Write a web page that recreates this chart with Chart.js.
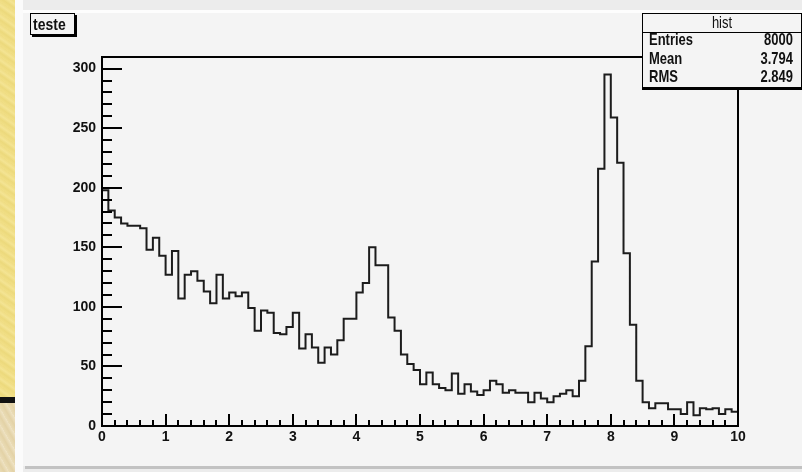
<!DOCTYPE html>
<html>
<head>
<meta charset="utf-8">
<script src="https://cdn.jsdelivr.net/npm/chart.js@4/dist/chart.umd.min.js"></script>
<style>
  html, body { margin: 0; padding: 0; }
  body { width: 802px; height: 472px; position: relative; overflow: hidden; background: #ececec;
         font-family: "Liberation Sans", Arial, sans-serif; }
  .abs { position: absolute; }
  #edgeYellow { left: 0; top: 0; width: 15px; height: 397px;
    background: repeating-linear-gradient(35deg, #f1df86 0px, #ecd97c 3px, #f4e493 6px, #efdc82 9px); }
  #edgeBar { left: 0; top: 397px; width: 15px; height: 6px; background: #111; }
  #edgeBeige { left: 0; top: 403px; width: 15px; height: 69px;
    background: repeating-linear-gradient(60deg, #eadcb6 0px, #e3d2a6 4px, #efe3c4 8px); }
  #edgeWhite { left: 15px; top: 0; width: 8px; height: 472px; background: #fbfbfb; }
  #topWhite { left: 23px; top: 10px; width: 779px; height: 3px; background: #fdfdfd; }
  #pad { left: 23px; top: 13px; width: 779px; height: 453px; background: #f4f4f4; }
  #padShadow { left: 25px; top: 466px; width: 777px; height: 3px; background: #c2c2c2; }
  canvas { position: absolute; left: 0; top: 0; }
  .tall { display: inline-block; transform: scaleY(1.22); transform-origin: 50% 55%; }
  #titleBox { left: 30px; top: 13px; width: 43px; height: 20px; border: 1px solid #000;
    box-shadow: 2px 2px 0 #000; background: #f4f4f4; font-weight: bold; font-size: 14px; color: #111; }
  #titleBox span.t { position: absolute; left: 2px; top: 1px; line-height: 18px; }
  #stats { left: 642px; top: 13px; width: 158px; height: 73px; border: 1px solid #000;
    box-shadow: 0 2px 0 #000; background: #f4f4f4; font-weight: bold; font-size: 13px; color: #111; }
  #stats .hdr { position: absolute; left: 0; top: 0; width: 158px; height: 18px; border-bottom: 1px solid #000;
    text-align: center; line-height: 18px; font-weight: normal; font-size: 13px; }
  #stats .lab { position: absolute; left: 6px; line-height: 16px; }
  #stats .val { position: absolute; right: 8px; line-height: 16px; }
</style>
</head>
<body>
<div id="edgeYellow" class="abs"></div>
<div id="edgeBar" class="abs"></div>
<div id="edgeBeige" class="abs"></div>
<div id="edgeWhite" class="abs"></div>
<div id="topWhite" class="abs"></div>
<div id="pad" class="abs"></div>
<div id="padShadow" class="abs"></div>
<canvas id="c" width="802" height="472"></canvas>
<div id="titleBox" class="abs"><span class="t"><span class="tall" id="titleText"></span></span></div>
<div id="stats" class="abs"></div>
<script>
// Histogram "hist": 100 bins of width 0.1 on [0, 10]
const histTitle = "teste";
const histName = "hist";
const xMin = 0;
const xMax = 10;
const binCounts = [
  198, 181, 175, 170, 168, 168, 166, 148, 158, 143,
  127, 147, 107, 127, 130, 122, 113, 103, 127, 107,
  112, 109, 112,  99,  80,  97,  95,  78,  77,  83,
   95,  65,  77,  66,  53,  66,  60,  72,  90,  90,
  112, 120, 150, 135, 135,  91,  80,  60,  52,  47,
   35,  45,  35,  32,  30,  44,  27,  35,  29,  26,
   30,  38,  35,  28,  30,  28,  28,  20,  28,  23,
   20,  25,  27,  30,  25,  38,  67, 138, 216, 295,
  259, 221, 145,  85,  38,  20,  15,  19,  19,  14,
   14,  10,  20,   9,  15,  14,  15,  10,  14,  12
];
const statLabels = ["Entries", "Mean", "RMS"];
const statValues = ["8000", "3.794", "2.849"];
const xTickLabels = ["0", "1", "2", "3", "4", "5", "6", "7", "8", "9", "10"];
const yTickLabels = ["0", "50", "100", "150", "200", "250", "300"];

// Title and statistics boxes
document.getElementById("titleText").textContent = histTitle;
const stats = document.getElementById("stats");
const hdr = document.createElement("div");
hdr.className = "hdr";
hdr.innerHTML = '<span class="tall"></span>';
hdr.firstChild.textContent = histName;
stats.appendChild(hdr);
const rowTops = [18, 37, 55];
statLabels.forEach((lab, i) => {
  const l = document.createElement("div");
  l.className = "lab"; l.style.top = rowTops[i] + "px";
  l.innerHTML = '<span class="tall"></span>'; l.firstChild.textContent = lab;
  const v = document.createElement("div");
  v.className = "val"; v.style.top = rowTops[i] + "px";
  v.innerHTML = '<span class="tall"></span>'; v.firstChild.textContent = statValues[i];
  stats.appendChild(l); stats.appendChild(v);
});

// Outline points: rise from zero at the low edge, one step per bin, drop at the high edge
const nBins = binCounts.length;
const binW = (xMax - xMin) / nBins;
const outline = [{ x: xMin, y: 0 }];
binCounts.forEach((c, i) => outline.push({ x: xMin + i * binW, y: c }));
outline.push({ x: xMax, y: binCounts[nBins - 1] });
outline.push({ x: xMax, y: 0 });

const yMax = 1.05 * Math.max(...binCounts);
const labelFont = { family: '"Liberation Sans", Arial, sans-serif', size: 14, weight: 'bold' };

// Frame plus inward ROOT-style tick marks
const frameTicks = {
  id: 'frameTicks',
  afterDatasetsDraw(chart) {
    const { ctx, chartArea: a, scales: { x, y } } = chart;
    ctx.save();
    ctx.strokeStyle = '#000';
    ctx.lineWidth = 2;
    ctx.strokeRect(a.left, a.top, a.right - a.left, a.bottom - a.top);
    ctx.beginPath();
    for (let v = 0; v <= y.max + 1e-6; v += 10) {
      const py = Math.round(y.getPixelForValue(v));
      const len = (v % 50 === 0) ? 20 : 10;
      ctx.moveTo(a.left, py); ctx.lineTo(a.left + len, py);
    }
    for (let k = 0; k <= 50; k++) {
      const px = Math.round(x.getPixelForValue(k * 0.2));
      const len = (k % 5 === 0) ? 12 : 6;
      ctx.moveTo(px, a.bottom); ctx.lineTo(px, a.bottom - len);
    }
    ctx.stroke();
    ctx.restore();
  }
};

new Chart(document.getElementById('c'), {
  type: 'line',
  data: {
    datasets: [{
      label: histName,
      data: outline,
      stepped: 'before',
      borderColor: '#1c1c1c',
      borderWidth: 2,
      pointRadius: 0,
      fill: false,
      clip: false
    }]
  },
  options: {
    responsive: false,
    animation: false,
    devicePixelRatio: 1,
    layout: { padding: { top: 57, right: 64, left: 0, bottom: 0 } },
    plugins: { legend: { display: false }, tooltip: { enabled: false } },
    scales: {
      x: {
        type: 'linear', min: xMin, max: xMax,
        grid: { display: false, drawTicks: false },
        border: { display: false },
        ticks: {
          stepSize: 1, padding: 3, color: '#111', font: labelFont, maxRotation: 0,
          callback: (v) => xTickLabels[Math.round(v)]
        },
        afterFit: (s) => { s.height = 46; s.paddingLeft = 0; s.paddingRight = 0; }
      },
      y: {
        type: 'linear', min: 0, max: yMax,
        grid: { display: false, drawTicks: false },
        border: { display: false },
        ticks: {
          stepSize: 50, includeBounds: false, padding: 6, color: '#111', font: labelFont,
          callback: (v) => yTickLabels[Math.round(v / 50)]
        },
        afterFit: (s) => { s.width = 102; s.paddingTop = 0; s.paddingBottom = 0; }
      }
    }
  },
  plugins: [frameTicks]
});
</script>
</body>
</html>
